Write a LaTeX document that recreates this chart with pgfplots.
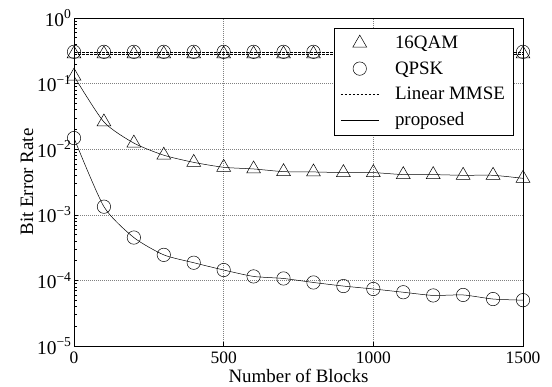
\documentclass[border=0pt]{standalone}
\usepackage{fontspec}
\setmainfont{Liberation Serif}
\usepackage{pgfplots}
\pgfplotsset{compat=1.18}
\pgfplotsset{
  markleg/.style={legend image code/.code={\draw[#1] plot coordinates {(19bp,0bp)};}},
  lineleg/.style={legend image code/.code={\draw[#1] (0bp,0bp) -- (38bp,0bp);}},
}
\begin{document}
\begin{tikzpicture}
\begin{axis}[
  scale only axis, width=449bp, height=328bp,
  ymode=log, xmin=0, xmax=1500, ymin=1e-5, ymax=1,
  xtick={0,500,1000,1500},
  ytick={1e-5,1e-4,1e-3,1e-2,1e-1,1},
  yticklabels={10\textsuperscript{−5},10\textsuperscript{−4},10\textsuperscript{−3},10\textsuperscript{−2},10\textsuperscript{−1},10\textsuperscript{0}},
  /pgf/number format/assume math mode=true,
  /pgf/number format/1000 sep={},
  xticklabel style={font=\fontsize{17.5}{20}\selectfont, yshift=-2bp},
  yticklabel style={font=\fontsize{19.5}{22}\selectfont, xshift=1bp},
  label style={font=\fontsize{19}{22}\selectfont},
  xlabel={Number of Blocks}, ylabel={Bit Error Rate},
  xlabel style={inner ysep=0pt, yshift=-2bp},
  ylabel style={yshift=-3bp},
  tick align=inside, xtick pos=left, ytick pos=left,
  major tick length=4bp, minor tick length=2.5bp,
  grid=major, grid style={dash pattern=on 1bp off 1bp, gray, line width=0.55pt},
  axis line style={line width=0.7pt},
  every tick/.style={black, line width=0.5pt},
  legend style={at={(0.978,0.97)}, anchor=north east, draw=black, line width=0.5pt,
    font=\fontsize{19}{22}\selectfont, row sep=7.5bp, column sep=14bp,
    inner xsep=6bp, inner ysep=6bp},
  legend cell align=left,
]
\addlegendimage{only marks, mark=triangle, mark size=8bp, markleg}
\addlegendentry{16QAM}
\addlegendimage{only marks, mark=o, mark size=6.7bp, markleg}
\addlegendentry{QPSK}
\addlegendimage{black, line width=0.5pt, dash pattern=on 2.5bp off 1.5bp, lineleg}
\addlegendentry{Linear MMSE}
\addlegendimage{black, line width=0.5pt, lineleg}
\addlegendentry{proposed}

% Linear MMSE QPSK
\addplot[black, line width=0.5pt, dash pattern=on 2.5bp off 1.5bp, mark=o, mark size=6.7bp, mark options={solid}, forget plot] coordinates {
(0,0.305)(100,0.305)(200,0.305)(300,0.305)(400,0.305)(500,0.305)(600,0.305)(700,0.305)(800,0.305)(900,0.305)(1000,0.305)(1100,0.305)(1200,0.305)(1300,0.305)(1400,0.305)(1500,0.305)};
% Linear MMSE 16QAM
\addplot[black, line width=0.5pt, dash pattern=on 2.5bp off 1.5bp, mark=triangle, mark size=8bp, mark options={solid}, forget plot] coordinates {
(0,0.283)(100,0.283)(200,0.283)(300,0.283)(400,0.283)(500,0.283)(600,0.283)(700,0.283)(800,0.283)(900,0.283)(1000,0.283)(1100,0.283)(1200,0.283)(1300,0.283)(1400,0.283)(1500,0.283)};
% proposed 16QAM
\addplot[black, line width=0.5pt, smooth, tension=0.4, mark=triangle, mark size=8bp, forget plot] coordinates {
(0,0.13)(100,0.026)(200,0.0124)(300,0.0081)(400,0.0063)(500,0.0053)(600,0.0050)(700,0.00455)(800,0.0045)(900,0.0044)(1000,0.0044)(1100,0.0041)(1200,0.0041)(1300,0.0040)(1400,0.0040)(1500,0.0036)};
% proposed QPSK
\addplot[black, line width=0.5pt, smooth, tension=0.4, mark=o, mark size=6.7bp, forget plot] coordinates {
(0,0.0148)(100,0.00133)(200,0.00045)(300,0.000245)(400,0.000186)(500,0.000144)(600,0.000115)(700,0.000107)(800,0.000093)(900,0.000082)(1000,0.000074)(1100,0.000066)(1200,0.000059)(1300,0.000060)(1400,0.000052)(1500,0.000050)};
\coordinate (sw) at (rel axis cs:0,0);
\coordinate (ne) at (rel axis cs:1,1);
\end{axis}
\pgfresetboundingbox
\path ([xshift=-74bp,yshift=-41bp]sw) rectangle ([xshift=29bp,yshift=18bp]ne);
\end{tikzpicture}
\end{document}
